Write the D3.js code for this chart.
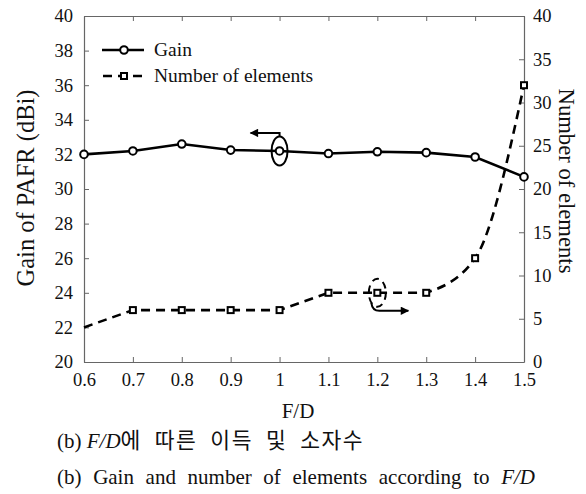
<!DOCTYPE html>
<html><head><meta charset="utf-8">
<script src="https://cdn.jsdelivr.net/npm/d3@7/dist/d3.min.js"></script>
<style>body{margin:0;background:#fff}svg{display:block}svg text{font-family:"Liberation Serif","Times New Roman",serif;fill:#111}svg tspan.h{font-family:"Noto Sans CJK KR",sans-serif}</style>
</head><body><svg id="c" width="586" height="494"></svg>
<script>
const fd = [0.6,0.7,0.8,0.9,1.0,1.1,1.2,1.3,1.4,1.5];
const gain = [32.0,32.2,32.6,32.25,32.2,32.05,32.15,32.1,31.85,30.7];
const elements = [4,6,6,6,6,8,8,8,12,32];
const xTicks = [0.6,0.7,0.8,0.9,1.0,1.1,1.2,1.3,1.4,1.5];
const yLeftTicks = [20,22,24,26,28,30,32,34,36,38,40];
const yRightTicks = [0,5,10,15,20,25,30,35,40];

const svg = d3.select("#c");
const L=84,R=524,T=16,B=362;
const x = d3.scaleLinear().domain([0.6,1.5]).range([L,R]);
const yL = d3.scaleLinear().domain([20,40]).range([B,T]);
const yR = d3.scaleLinear().domain([0,40]).range([B,T]);
const axCol="#666";
const SERIF='"Liberation Serif","Times New Roman",serif';

function fitFont(sel, target){
  const fs = parseFloat(sel.style("font-size"));
  const w = sel.node().getComputedTextLength();
  sel.style("font-size", (fs*target/w).toFixed(2)+"px");
}
function fitSpacing(textSel, spanSel, target){
  const w = textSel.node().getComputedTextLength();
  const n = (spanSel.text().match(/ /g)||[]).length;
  if(n) spanSel.style("word-spacing", ((target-w)/n).toFixed(2)+"px");
}

function styleAxis(g){g.attr("font-family",SERIF);
 g.selectAll("path.domain").attr("stroke",axCol).attr("stroke-width",1.2);
 g.selectAll(".tick line").attr("stroke",axCol).attr("stroke-width",1);
 g.selectAll(".tick text").style("font-size","18.5px").attr("fill","#111");}

svg.append("g").attr("transform",`translate(0,${B})`)
 .call(d3.axisBottom(x).tickValues(xTicks).tickSizeInner(-5).tickSizeOuter(0).tickPadding(11).tickFormat(d=>d3.format("")(+d.toFixed(1))))
 .call(styleAxis);
svg.append("g").attr("transform",`translate(0,${T})`)
 .call(d3.axisTop(x).tickValues(xTicks).tickSizeInner(-5).tickSizeOuter(0).tickFormat(""))
 .call(styleAxis);
svg.append("g").attr("transform",`translate(${L},0)`)
 .call(d3.axisLeft(yL).tickValues(yLeftTicks).tickSizeInner(-5).tickSizeOuter(0).tickPadding(11))
 .call(styleAxis);
svg.append("g").attr("transform",`translate(${R},0)`)
 .call(d3.axisRight(yR).tickValues(yRightTicks).tickSizeInner(-5).tickSizeOuter(0).tickPadding(9))
 .call(styleAxis);

// elements dashed line: straight up to 1.3, smooth beyond
const pts = elements.map((d,i)=>[x(fd[i]),yR(d)]);
const k = 7;
const dLin = d3.line().curve(d3.curveLinear)(pts.slice(0,k+1));
const dCur = d3.line().curve(d3.curveMonotoneX)(pts.slice(k));
svg.append("path").attr("d",dLin+"L"+dCur.slice(1)).attr("fill","none")
 .attr("stroke","#000").attr("stroke-width",2.6).attr("stroke-dasharray","9,6");
svg.selectAll("rect.el").data(elements.slice(1)).enter().append("rect")
 .attr("x",(d,i)=>x(fd[i+1])-3).attr("y",d=>yR(d)-3).attr("width",6).attr("height",6)
 .attr("fill","#fff").attr("stroke","#000").attr("stroke-width",2);

const gLine = d3.line().x((d,i)=>x(fd[i])).y(d=>yL(d));
svg.append("path").datum(gain).attr("d",gLine).attr("fill","none")
 .attr("stroke","#000").attr("stroke-width",2.6);
svg.selectAll("circle.g").data(gain).enter().append("circle")
 .attr("cx",(d,i)=>x(fd[i])).attr("cy",d=>yL(d)).attr("r",3.8)
 .attr("fill","#fff").attr("stroke","#000").attr("stroke-width",2);

// annotations
const defs = svg.append("defs");
defs.append("marker").attr("id","ah").attr("viewBox","0 0 10 10").attr("refX",9).attr("refY",5)
 .attr("markerWidth",5.5).attr("markerHeight",4.2).attr("orient","auto")
 .append("path").attr("d","M0,0L10,5L0,10Z").attr("fill","#000");
const gx=x(1.0), gy=yL(gain[4]);
svg.append("ellipse").attr("cx",gx).attr("cy",gy).attr("rx",8).attr("ry",14.5)
 .attr("fill","none").attr("stroke","#000").attr("stroke-width",2);
svg.append("path").attr("d",`M${gx},${gy-14.5}L${gx},${gy-18}L${gx-29},${gy-18}`)
 .attr("fill","none").attr("stroke","#000").attr("stroke-width",2).attr("marker-end","url(#ah)");
const ex=x(1.2), ey=yR(elements[6]);
svg.append("ellipse").attr("cx",ex).attr("cy",ey).attr("rx",8.5).attr("ry",14)
 .attr("fill","none").attr("stroke","#000").attr("stroke-width",2).attr("stroke-dasharray","7,5");
svg.append("path").attr("d",`M${ex-6},${ey+10}Q${ex-5},${ey+18} ${ex+2},${ey+18}L${ex+31},${ey+18}`)
 .attr("fill","none").attr("stroke","#000").attr("stroke-width",2).attr("marker-end","url(#ah)");

// legend
const lg = svg.append("g");
lg.append("line").attr("x1",102).attr("x2",144).attr("y1",50).attr("y2",50).attr("stroke","#000").attr("stroke-width",2.6);
lg.append("circle").attr("cx",124).attr("cy",50).attr("r",3.8).attr("fill","#fff").attr("stroke","#000").attr("stroke-width",2);
lg.append("text").attr("x",154).attr("y",55.5).style("font-size","19.5px").text("Gain");
lg.append("line").attr("x1",102).attr("x2",144).attr("y1",76).attr("y2",76).attr("stroke","#000").attr("stroke-width",2.6).attr("stroke-dasharray","9,6").attr("stroke-dashoffset",-1);
lg.append("rect").attr("x",121).attr("y",73).attr("width",6).attr("height",6).attr("fill","#fff").attr("stroke","#000").attr("stroke-width",2);
lg.append("text").attr("x",154).attr("y",81.5).style("font-size","19.5px").text("Number of elements");

// axis titles
const tl = svg.append("text").attr("transform",`translate(34,188) rotate(-90)`).attr("text-anchor","middle").style("font-size","22px").text("Gain of PAFR (dBi)");
fitFont(tl,197);
const tr = svg.append("text").attr("transform",`translate(559,181) rotate(90)`).attr("text-anchor","middle").style("font-size","22px").text("Number of elements");
fitFont(tr,185);
svg.append("text").attr("x",298).attr("y",418).attr("text-anchor","middle").style("font-size","21px").text("F/D");

// captions
const c1 = svg.append("text").attr("x",57).attr("y",448).style("font-size","21px");
c1.append("tspan").text("(b) ");
c1.append("tspan").style("font-style","italic").text("F/D");
const c1k = c1.append("tspan").attr("class","h").style("font-size","21.5px").style("letter-spacing","1.5px").text("에 따른 이득 및 소자수");
fitSpacing(c1, c1k, 307);
const c2 = svg.append("text").attr("x",57).attr("y",484).style("font-size","21px");
const c2a = c2.append("tspan").text("(b) Gain and number of elements according to ");
c2.append("tspan").style("font-style","italic").text("F/D");
fitSpacing(c2, c2a, 478);
</script></body></html>
